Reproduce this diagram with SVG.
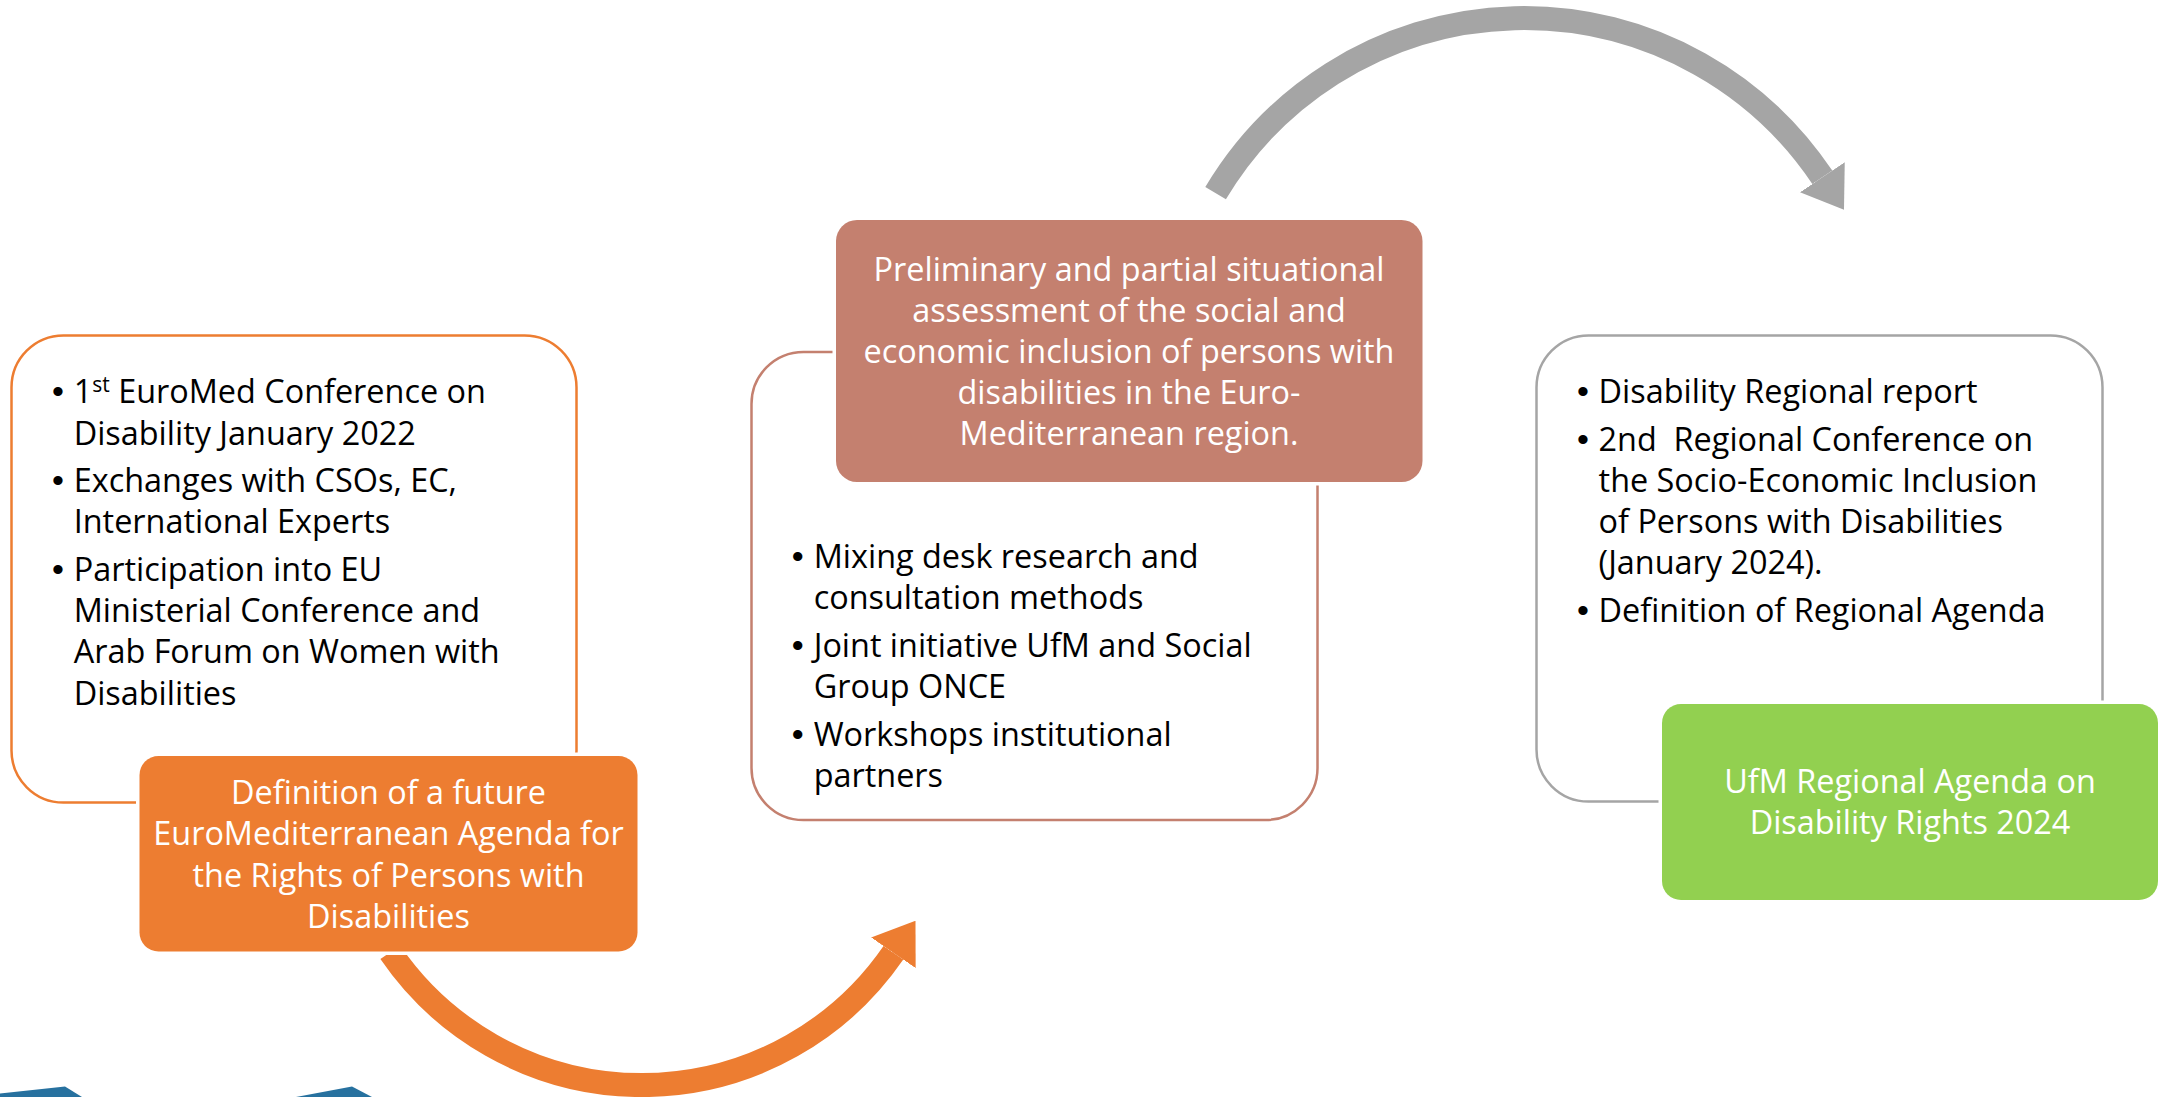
<svg xmlns="http://www.w3.org/2000/svg" width="2159" height="1097" viewBox="0 0 2159 1097">
  <style>
    .frame { fill: #ffffff; stroke-width: 2.5; }
    .card { stroke: #ffffff; stroke-width: 7; paint-order: stroke; }
    .t { font-family: 'Open Sans', 'Noto Sans', 'Liberation Sans', sans-serif; font-size: 32.4px; }
    .dark { fill: #000000; }
    .light { fill: #ffffff; text-anchor: middle; }
    .dot { font-family: 'Liberation Sans', Arial, sans-serif; font-size: 34px; fill: #000000; text-anchor: middle; }
    .arc { fill: none; stroke-width: 24; stroke-linecap: butt; }
  </style>
  <defs>
    <marker id="headOrange" markerUnits="userSpaceOnUse" viewBox="0 0 39 54" refX="0" refY="27" markerWidth="39" markerHeight="54" orient="auto">
      <path d="M0,0 L39,27 L0,54 Z" fill="#ED7D31"/>
    </marker>
    <marker id="headGray" markerUnits="userSpaceOnUse" viewBox="0 0 39 54" refX="0" refY="27" markerWidth="39" markerHeight="54" orient="auto">
      <path d="M0,0 L39,27 L0,54 Z" fill="#A5A5A5"/>
    </marker>
  </defs>

  <rect width="2159" height="1097" fill="#ffffff"/>

  <!-- shapes of the next row, cut by the bottom edge -->
  <g id="lower-row" fill="#27719F">
    <polygon points="0,1093.5 65,1086.5 82,1097 0,1097"/>
    <polygon points="296,1097 352,1086.5 372,1097"/>
  </g>

  <!-- detail frames -->
  <g id="step1-details">
    <rect class="frame" x="11.5" y="335.5" width="565" height="467" rx="52" stroke="#ED7D31"/>
    <text class="dot" x="58" y="403">•</text>
    <text class="t dark" x="73.7" y="403">1<tspan font-size="21" dy="-11">st</tspan><tspan dy="11"> EuroMed Conference on</tspan></text>
    <text class="t dark" x="73.7" y="444.5">Disability January 2022</text>
    <text class="dot" x="58" y="492">•</text>
    <text class="t dark" x="73.7" y="492">Exchanges with CSOs, EC,</text>
    <text class="t dark" x="73.7" y="533">International Experts</text>
    <text class="dot" x="58" y="581">•</text>
    <text class="t dark" x="73.7" y="581">Participation into EU</text>
    <text class="t dark" x="73.7" y="622">Ministerial Conference and</text>
    <text class="t dark" x="73.7" y="663">Arab Forum on Women with</text>
    <text class="t dark" x="73.7" y="704.5">Disabilities</text>
  </g>

  <g id="step2-details">
    <rect class="frame" x="751.5" y="352" width="566" height="468" rx="52" stroke="#C4806F"/>
    <text class="dot" x="797.6" y="567.5">•</text>
    <text class="t dark" x="813.7" y="567.5">Mixing desk research and</text>
    <text class="t dark" x="813.7" y="608.5">consultation methods</text>
    <text class="dot" x="797.6" y="656.5">•</text>
    <text class="t dark" x="813.7" y="656.5">Joint initiative UfM and Social</text>
    <text class="t dark" x="813.7" y="697.5">Group ONCE</text>
    <text class="dot" x="797.6" y="745.5">•</text>
    <text class="t dark" x="813.7" y="745.5">Workshops institutional</text>
    <text class="t dark" x="813.7" y="786.5">partners</text>
  </g>

  <g id="step3-details">
    <rect class="frame" x="1536.5" y="335.5" width="566" height="466" rx="52" stroke="#A5A5A5"/>
    <text class="dot" x="1583" y="403">•</text>
    <text class="t dark" x="1598.6" y="403">Disability Regional report</text>
    <text class="dot" x="1583" y="451">•</text>
    <text class="t dark" x="1598.6" y="451">2nd&#160; Regional Conference on</text>
    <text class="t dark" x="1598.6" y="492">the Socio-Economic Inclusion</text>
    <text class="t dark" x="1598.6" y="533">of Persons with Disabilities</text>
    <text class="t dark" x="1598.6" y="574">(January 2024).</text>
    <text class="dot" x="1583" y="622">•</text>
    <text class="t dark" x="1598.6" y="622">Definition of Regional Agenda</text>
  </g>

  <!-- curved connectors between the steps -->
  <g id="connectors">
    <path id="arrow-1-2" class="arc" stroke="#ED7D31" marker-end="url(#headOrange)" d="M390.3,952.3 A305,305 0 0 0 893.4,952.8"/>
    <path id="arrow-2-3" class="arc" stroke="#A5A5A5" marker-end="url(#headGray)" d="M1215.6,193.2 A359,359 0 0 1 1822.3,177.3"/>
  </g>

  <!-- step titles -->
  <g id="step1-title">
    <rect class="card" x="139.5" y="756" width="498" height="195.5" rx="19" fill="#ED7D31"/>
    <text class="t light" x="388.5" y="803.5">Definition of a future</text>
    <text class="t light" x="388.5" y="845">EuroMediterranean Agenda for</text>
    <text class="t light" x="388.5" y="886.5">the Rights of Persons with</text>
    <text class="t light" x="388.5" y="927.5">Disabilities</text>
  </g>

  <g id="step2-title">
    <rect class="card" x="836" y="220" width="586.5" height="262" rx="21" fill="#C4806F"/>
    <text class="t light" x="1129" y="280.5">Preliminary and partial situational</text>
    <text class="t light" x="1129" y="321.5">assessment of the social and</text>
    <text class="t light" x="1129" y="362.5">economic inclusion of persons with</text>
    <text class="t light" x="1129" y="403.5">disabilities in the Euro-</text>
    <text class="t light" x="1129" y="444.5">Mediterranean region.</text>
  </g>

  <g id="step3-title">
    <rect class="card" x="1662" y="704" width="496" height="196" rx="19" fill="#92D050"/>
    <text class="t light" x="1910" y="792.5">UfM Regional Agenda on</text>
    <text class="t light" x="1910" y="834">Disability Rights 2024</text>
  </g>
</svg>
